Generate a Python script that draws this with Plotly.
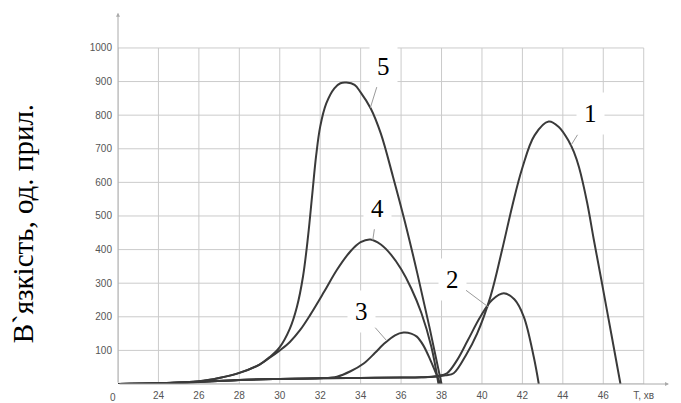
import plotly.graph_objects as go

# ---- data ----
x1 = [22, 24, 26, 28, 30, 32, 34, 36, 37, 37.8, 38.2, 38.6, 39.2, 39.76, 40.42, 41.0, 41.5, 41.98, 42.6, 43.3, 43.8, 44.3, 44.55, 44.8, 45.2, 45.53, 45.95, 46.4, 46.85]
y1 = [0, 2, 6, 12, 15, 17, 18, 19, 20, 22, 26, 32, 85, 150, 260, 400, 530, 640, 740, 781, 765, 722, 690, 645, 540, 430, 295, 148, 0]

x2 = [22, 24, 26, 28, 30, 32, 34, 36, 37, 37.8, 38.27, 38.77, 39.3, 39.92, 40.5, 41.08, 41.6, 42.07, 42.56, 42.81]
y2 = [0, 2, 6, 12, 15, 17, 18, 19, 20, 24, 32, 71, 130, 200, 250, 270, 252, 200, 81, 0]

x3 = [22, 24, 26, 28, 30, 32, 32.83, 33.5, 34.15, 34.7, 35.13, 35.7, 36.12, 36.5, 36.78, 37.1, 37.45, 37.94]
y3 = [0, 2, 6, 12, 15, 17, 22, 38, 61, 92, 118, 145, 153, 150, 141, 115, 71, 0]

x4 = [22, 24, 26, 27, 28, 29, 29.5, 30, 30.5, 31, 31.5, 32.2, 32.83, 33.5, 34, 34.48, 35, 35.5, 36, 36.5, 37, 37.5, 37.85]
y4 = [0, 2, 8, 18, 33, 58, 78, 100, 125, 160, 205, 275, 340, 395, 422, 430, 415, 385, 342, 285, 212, 110, 0]

x5 = [22, 24, 26, 27, 28, 29, 29.5, 30, 30.5, 30.85, 31.15, 31.4, 31.6, 31.8, 32, 32.3, 32.7, 33, 33.3, 33.7, 34, 34.5, 35, 35.6, 36.2, 36.8, 37.4, 38.0]
y5 = [0, 2, 8, 18, 33, 58, 80, 110, 165, 230, 320, 440, 560, 680, 766, 835, 880, 895, 897, 890, 868, 820, 745, 617, 480, 330, 170, 0]

x_grid = [22, 24, 26, 28, 30, 32, 34, 36, 38, 40, 42, 44, 46, 48]
y_grid = [0, 100, 200, 300, 400, 500, 600, 700, 800, 900, 1000]
x_tick_vals = [24, 26, 28, 30, 32, 34, 36, 38, 40, 42, 44, 46, 48]
x_tick_text = ["24", "26", "28", "30", "32", "34", "36", "38", "40", "42", "44", "46", "Т, хв"]
y_tick_vals = [100, 200, 300, 400, 500, 600, 700, 800, 900, 1000]

curve_names = ["1", "2", "3", "4", "5"]
# label: (tip x, tip y, text x, text y)
labels = {
    "5": (34.48, 822, 35.12, 946),
    "4": (34.6, 428, 34.83, 523),
    "3": (35.3, 128, 34.03, 215),
    "2": (40.32, 229, 38.52, 310),
    "1": (44.4, 710, 45.37, 804),
}

fig = go.Figure()
line_col = "#3a3a3a"
for name, xs, ys in zip(curve_names, [x1, x2, x3, x4, x5], [y1, y2, y3, y4, y5]):
    fig.add_trace(go.Scatter(x=xs, y=ys, mode="lines", name=name,
                             line=dict(color=line_col, width=2, shape="spline", smoothing=1.0),
                             hoverinfo="skip", showlegend=False))

shapes = []
gcol = "#cbcbcb"
for gx in x_grid:
    shapes.append(dict(type="line", xref="x", yref="y", x0=gx, x1=gx, y0=y_grid[0], y1=y_grid[-1],
                       line=dict(color=gcol, width=1), layer="below"))
for gy in y_grid:
    shapes.append(dict(type="line", xref="x", yref="y", x0=x_grid[0], x1=x_grid[-1], y0=gy, y1=gy,
                       line=dict(color=gcol, width=1), layer="below"))

annotations = []
# axes with arrows
annotations.append(dict(x=49.25, y=0, ax=22, ay=0, xref="x", yref="y", axref="x", ayref="y",
                        text="", showarrow=True, arrowhead=2, arrowsize=0.8, arrowwidth=1, arrowcolor="#aaaaaa"))
annotations.append(dict(x=22, y=1105, ax=22, ay=0, xref="x", yref="y", axref="x", ayref="y",
                        text="", showarrow=True, arrowhead=2, arrowsize=0.8, arrowwidth=1, arrowcolor="#aaaaaa"))
# origin label
annotations.append(dict(x=22, y=0, xref="x", yref="y", text="0", showarrow=False,
                        xshift=-5, yshift=-13, font=dict(family="Liberation Sans", size=10, color="#555555")))
# curve labels
for name in curve_names:
    tx, ty, lx, ly = labels[name]
    annotations.append(dict(x=tx, y=ty, ax=lx, ay=ly, xref="x", yref="y", axref="x", ayref="y",
                            text=name, showarrow=True, arrowhead=0, arrowwidth=1, arrowcolor="#9a9a9a",
                            bgcolor="white", borderpad=7,
                            font=dict(family="Liberation Serif", size=25, color="black")))
# y title
annotations.append(dict(x=-0.172, y=0.43, xref="paper", yref="paper", text="В`язкість, од. прил.",
                        textangle=-90, showarrow=False, xanchor="center", yanchor="middle",
                        font=dict(family="Liberation Serif", size=29, color="black")))

fig.update_layout(
    width=681, height=403,
    margin=dict(l=118, r=12, t=12, b=19),
    paper_bgcolor="white", plot_bgcolor="white",
    shapes=shapes, annotations=annotations,
    xaxis=dict(range=[22, 49.25], showgrid=False, zeroline=False, showline=False, automargin=False,
               tickvals=x_tick_vals, ticktext=x_tick_text, ticks="", ticklabelstandoff=4,
               tickfont=dict(family="Liberation Sans", size=10, color="#555555")),
    yaxis=dict(range=[0, 1107], showgrid=False, zeroline=False, showline=False, automargin=False,
               tickvals=y_tick_vals, ticks="", ticklabelstandoff=5,
               tickfont=dict(family="Liberation Sans", size=10, color="#555555")),
)

fig.write_html("out.html")
